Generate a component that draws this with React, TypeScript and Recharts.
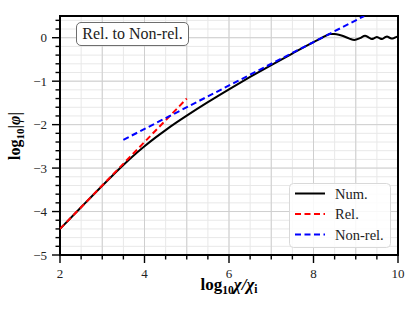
import React from "react";
import {
  LineChart,
  Line,
  XAxis,
  YAxis,
  CartesianGrid,
  ReferenceArea,
} from "recharts";

// numerical solution
const numX = [2, 2.5, 3, 3.25, 3.5, 3.75, 4, 4.25, 4.5, 4.75, 5, 5.5, 6, 6.5, 7, 7.5, 8, 8.2, 8.3, 8.4, 8.5, 8.6, 8.7, 8.85, 8.97, 9.1, 9.22, 9.3, 9.38, 9.44, 9.5, 9.56, 9.62, 9.68, 9.74, 9.8, 9.86, 9.92, 10];
const numY = [-4.4, -3.9, -3.405, -3.163, -2.928, -2.705, -2.498, -2.305, -2.125, -1.955, -1.793, -1.483, -1.188, -0.903, -0.628, -0.363, -0.103, -0.003, 0.05, 0.085, 0.085, 0.07, 0.04, -0.02, -0.05, -0.01, 0.045, 0.01, -0.03, -0.01, 0.015, -0.01, -0.03, 0.0, 0.03, 0.0, -0.02, 0.0, 0.03];

// relativistic approximation
const relX = [2, 5];
const relY = [-4.4, -1.4];

// non-relativistic approximation
const nonRelX = [3.5, 9.2];
const nonRelY = [-2.35, 0.5];

const xTicks = [2, 2.5, 3, 3.5, 4, 4.5, 5, 5.5, 6, 6.5, 7, 7.5, 8, 8.5, 9, 9.5, 10];
const xMajor = [2, 4, 6, 8, 10];
const yTicks = [-5, -4.8, -4.6, -4.4, -4.2, -4, -3.8, -3.6, -3.4, -3.2, -3, -2.8, -2.6, -2.4, -2.2, -2, -1.8, -1.6, -1.4, -1.2, -1, -0.8, -0.6, -0.4, -0.2, 0, 0.2, 0.4];
const yMajor = [-5, -4, -3, -2, -1, 0];

const toRows = (xs: number[], ys: number[]) => xs.map((x, i) => ({ x, y: ys[i] }));
const numData = toRows(numX, numY);
const relData = toRows(relX, relY);
const nonRelData = toRows(nonRelX, nonRelY);

const series = [
  { name: "Num.", color: "#000000", dash: undefined as string | undefined },
  { name: "Rel.", color: "#ff0000", dash: "6 3.5" },
  { name: "Non-rel.", color: "#0000ff", dash: "6 3.5" },
];

const FONT = "'Liberation Serif', 'DejaVu Serif', serif";

const fmt = (v: number) => (v < 0 ? "\u2212" + Math.abs(v) : String(v));

function XTick(props: any) {
  const { x, y, payload } = props;
  const v = payload.value;
  const major = xMajor.includes(v);
  return (
    <g>
      <line x1={x} x2={x} y1={y} y2={y + (major ? 8 : 4.5)} stroke="#000" strokeWidth={1.4} />
      {major && (
        <text x={x} y={y + 22.5} textAnchor="middle" fontFamily={FONT} fontSize={13} fill="#222">
          {fmt(v)}
        </text>
      )}
    </g>
  );
}

function YTick(props: any) {
  const { x, y, payload } = props;
  const v = payload.value;
  const major = yMajor.some((m) => Math.abs(m - v) < 1e-9);
  return (
    <g>
      <line x1={x - (major ? 8 : 4.5)} x2={x} y1={y} y2={y} stroke="#000" strokeWidth={1.4} />
      {major && (
        <text x={x - 13} y={y + 4.5} textAnchor="end" fontFamily={FONT} fontSize={13} fill="#222">
          {fmt(Math.round(v))}
        </text>
      )}
    </g>
  );
}

function XLabel() {
  return (
    <text x={229} y={290} textAnchor="middle" fontFamily={FONT} fontSize={17} fontWeight="bold" fill="#000">
      <tspan>log</tspan>
      <tspan dy={4} fontSize={11.5}>10</tspan>
      <tspan dy={-4} fontStyle="italic">χ/χ</tspan>
      <tspan dy={3} fontSize={11.5}>i</tspan>
    </text>
  );
}

function YLabel() {
  return (
    <text
      x={0}
      y={0}
      transform="translate(20 136) rotate(-90)"
      textAnchor="middle"
      fontFamily={FONT}
      fontSize={16}
      fontWeight="bold"
      fill="#000"
    >
      <tspan>log</tspan>
      <tspan dy={4} fontSize={11}>10</tspan>
      <tspan dy={-4}>|</tspan>
      <tspan fontStyle="italic">φ</tspan>
      <tspan>|</tspan>
    </text>
  );
}

function LegendBox() {
  return (
    <svg
      width={102}
      height={65}
      style={{ position: "absolute", left: 289, top: 183, overflow: "visible" }}
    >
      <rect x={0.5} y={0.5} width={101} height={64} rx={4} fill="rgba(255,255,255,0.85)" stroke="#d9d9d9" />
      {series.map((s, i) => (
        <g key={s.name}>
          <line
            x1={6}
            x2={36}
            y1={10.5 + i * 20.5}
            y2={10.5 + i * 20.5}
            stroke={s.color}
            strokeWidth={2}
            strokeDasharray={s.dash}
          />
          <text x={46} y={15.5 + i * 20.5} fontFamily={FONT} fontSize={14.5} fill="#222">
            {s.name}
          </text>
        </g>
      ))}
    </svg>
  );
}

export default function App() {
  return (
    <div style={{ position: "absolute", left: 0, top: 0, width: 415, height: 311, background: "#fff" }}>
      <LineChart width={415} height={311} margin={{ top: 16, right: 17, left: 0, bottom: 0 }}>
        <CartesianGrid
          stroke="#e8e8e8"
          strokeWidth={1}
          verticalValues={xTicks}
          horizontalValues={yTicks}
        />
        <CartesianGrid
          stroke="#cfcfcf"
          strokeWidth={1}
          verticalValues={[3, 4, 5, 6, 7, 8, 9]}
          horizontalValues={[-4, -3, -2, -1, 0]}
          fill="none"
        />
        <XAxis
          type="number"
          dataKey="x"
          domain={[2, 10]}
          ticks={xTicks}
          interval={0}
          height={56}
          tickSize={0}
          tickMargin={0}
          tickLine={false}
          axisLine={false}
          tick={<XTick />}
          allowDuplicatedCategory={false}
          label={<XLabel />}
        />
        <YAxis
          type="number"
          dataKey="y"
          domain={[-5, 0.5]}
          ticks={yTicks}
          interval={0}
          width={60}
          tickSize={0}
          tickMargin={0}
          tickLine={false}
          axisLine={false}
          tick={<YTick />}
          allowDataOverflow
          label={<YLabel />}
        />
        <Line
          data={numData}
          dataKey="y"
          type="monotone"
          stroke="#000"
          strokeWidth={2}
          dot={false}
          isAnimationActive={false}
        />
        <Line
          data={relData}
          dataKey="y"
          type="linear"
          stroke="#ff0000"
          strokeWidth={2}
          strokeDasharray="6 3.5"
          dot={false}
          isAnimationActive={false}
        />
        <Line
          data={nonRelData}
          dataKey="y"
          type="linear"
          stroke="#0000ff"
          strokeWidth={2}
          strokeDasharray="6 3.5"
          dot={false}
          isAnimationActive={false}
        />
        <ReferenceArea x1={2} x2={10} y1={-5} y2={0.5} fill="none" stroke="#000" strokeWidth={2} />
      </LineChart>
      <div
        style={{
          position: "absolute",
          left: 76,
          top: 22,
          width: 111,
          height: 22,
          border: "1px solid #6e6e6e",
          borderRadius: 5,
          background: "#fff",
          fontFamily: FONT,
          fontSize: 16,
          lineHeight: "22px",
          textAlign: "center",
          color: "#222",
          whiteSpace: "nowrap",
        }}
      >
        Rel. to Non-rel.
      </div>
      <LegendBox />
    </div>
  );
}
